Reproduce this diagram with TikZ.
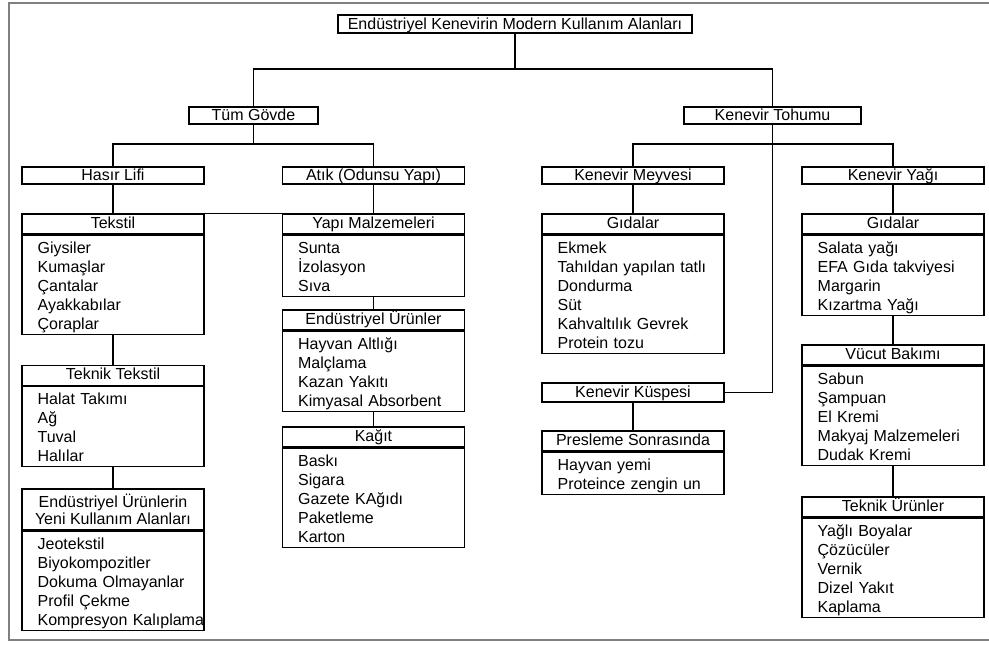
\documentclass[tikz,border=0pt]{standalone}
\usepackage{fontspec}
\setmainfont{Liberation Sans}
\usetikzlibrary{positioning}

\begin{document}
\begin{tikzpicture}[x=0.75pt,y=-0.75pt,
  every node/.style={font=\fontsize{12}{14.25}\selectfont, inner sep=0pt},
  box/.style={draw, line width=0.9pt, minimum width=136.5pt, minimum height=12.75pt, text height=10pt, text depth=2pt},
  head/.style={draw, line width=0.9pt, minimum width=136.5pt, minimum height=15pt, text height=9pt, text depth=3pt},
  headtwo/.style={draw, line width=0.9pt, minimum width=136.5pt, minimum height=30.75pt, align=center, font=\fontsize{12}{12.75}\selectfont},
  list/.style={draw, line width=0.9pt, text width=113pt, inner xsep=11.75pt, inner ysep=0pt, align=left,
    execute at begin node={\rule{0pt}{13.5pt}}, execute at end node={\rule[-3.75pt]{0pt}{0pt}}},
  link/.style={line width=0.9pt}]
  \useasboundingbox (0,0) rectangle (989,644);
  \draw[gray, line width=1.2pt] (989,3) -- (9,3) -- (9,640) -- (989,640); % frame

  % top levels
  \node[box, minimum width=265.5pt, minimum height=13.5pt] (title) at (515,24) {Endüstriyel Kenevirin Modern Kullanım Alanları};
  \node[box, minimum width=96.75pt] (tum) at (253.5,115.5) {Tüm Gövde};
  \node[box, minimum width=132.75pt] (tohum) at (772.5,115.5) {Kenevir Tohumu};
  \node[box] (hasir) at (113,175.5) {Hasır Lifi};
  \node[box] (atik) at (373.5,175.5) {Atık (Odunsu Yapı)};
  \node[box] (meyve) at (633,175.5) {Kenevir Meyvesi};
  \node[box] (yag) at (893,175.5) {Kenevir Yağı};
  \node[box, minimum height=14.25pt] (kuspe) at (633,392.5) {Kenevir Küspesi};

  % column 1
  \node[head] (tekstil) at (113,224) {Tekstil};
  \node[list, below=0pt of tekstil] (tekstilL) {Giysiler\\Kumaşlar\\Çantalar\\Ayakkabılar\\Çoraplar};
  \node[head] (teknikT) at (113,375.5) {Teknik Tekstil};
  \node[list, below=0pt of teknikT] (teknikTL) {Halat Takımı\\Ağ\\Tuval\\Halılar};
  \node[headtwo] (yeni) at (113,509.5) {Endüstriyel Ürünlerin\\Yeni Kullanım Alanları};
  \node[list, below=0pt of yeni] (yeniL) {Jeotekstil\\Biyokompozitler\\Dokuma Olmayanlar\\Profil Çekme\\\mbox{Kompresyon Kalıplama}};

  % column 2
  \node[head] (yapi) at (373.5,224) {Yapı Malzemeleri};
  \node[list, below=0pt of yapi] (yapiL) {Sunta\\İzolasyon\\Sıva};
  \node[head] (endurun) at (373.5,320) {Endüstriyel Ürünler};
  \node[list, below=0pt of endurun] (endurunL) {Hayvan Altlığı\\Malçlama\\Kazan Yakıtı\\Kimyasal Absorbent};
  \node[head] (kagit) at (373.5,437) {Kağıt};
  \node[list, below=0pt of kagit] (kagitL) {Baskı\\Sigara\\Gazete KAğıdı\\Paketleme\\Karton};

  % column 3
  \node[head] (gidaM) at (633,224) {Gıdalar};
  \node[list, below=0pt of gidaM] (gidaML) {Ekmek\\Tahıldan yapılan tatlı\\Dondurma\\Süt\\Kahvaltılık Gevrek\\Protein tozu};
  \node[head] (presleme) at (633,441) {Presleme Sonrasında};
  \node[list, below=0pt of presleme] (preslemeL) {Hayvan yemi\\Proteince zengin un};

  % column 4
  \node[head] (gidaY) at (893,224) {Gıdalar};
  \node[list, below=0pt of gidaY] (gidaYL) {Salata yağı\\EFA Gıda takviyesi\\Margarin\\Kızartma Yağı};
  \node[head] (vucut) at (893,355) {Vücut Bakımı};
  \node[list, below=0pt of vucut] (vucutL) {Sabun\\Şampuan\\El Kremi\\Makyaj Malzemeleri\\Dudak Kremi};
  \node[head] (teknikU) at (893,507) {Teknik Ürünler};
  \node[list, below=0pt of teknikU] (teknikUL) {Yağlı Boyalar\\Çözücüler\\Vernik\\Dizel Yakıt\\Kaplama};

  % connectors
  \coordinate (b0) at (515,69);
  \coordinate (b1) at (253.5,144);
  \coordinate (b2) at (772.5,144);
  \draw[link] (title) -- (b0); % title -- bus
  \draw[link] (tum) |- (b0) -| (tohum); % tum -- tohum
  \draw[link] (tum) -- (b1); % tum -- bus
  \draw[link] (hasir) |- (b1) -| (atik); % hasir -- atik
  \draw[link] (meyve) |- (b2) -| (yag); % meyve -- yag
  \draw[link] (tohum) |- (kuspe); % tohum -- kuspe
  \draw[link] (hasir) -- (tekstil); % hasir -- tekstil
  \draw[link] (tekstil.north east) -- (yapi.north west); % tekstil -- yapi
  \draw[link] (tekstilL) -- (teknikT); % tekstil -- teknik tekstil
  \draw[link] (teknikTL) -- (yeni); % teknik tekstil -- yeni
  \draw[link] (atik) -- (yapi); % atik -- yapi
  \draw[link] (yapiL) -- (endurun); % yapi -- endurun
  \draw[link] (endurunL) -- (kagit); % endurun -- kagit
  \draw[link] (meyve) -- (gidaM); % meyve -- gida
  \draw[link] (kuspe) -- (presleme); % kuspe -- presleme
  \draw[link] (yag) -- (gidaY); % yag -- gida
  \draw[link] (gidaYL) -- (vucut); % gida -- vucut
  \draw[link] (vucutL) -- (teknikU); % vucut -- teknik urunler
\end{tikzpicture}
\end{document}
